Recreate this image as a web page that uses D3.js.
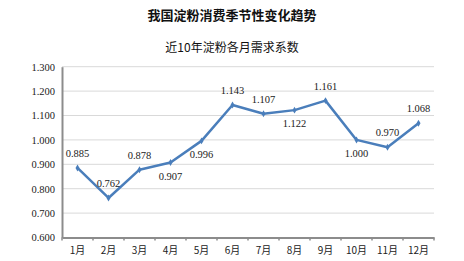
<!DOCTYPE html>
<html><head><meta charset="utf-8">
<script src="https://cdn.jsdelivr.net/npm/d3@7"></script>
<style>body{margin:0;background:#fff;}</style>
</head><body>
<svg id="c" width="464" height="261"></svg>
<script>
const months = ["1月","2月","3月","4月","5月","6月","7月","8月","9月","10月","11月","12月"];
const values = [0.885,0.762,0.878,0.907,0.996,1.143,1.107,1.122,1.161,1.000,0.970,1.068];
const labelBelow = [false,false,false,true,true,false,false,true,false,true,false,false];
const yTicks = [0.6,0.7,0.8,0.9,1.0,1.1,1.2,1.3];
const title = "我国淀粉消费季节性变化趋势";
const subtitle = "近10年淀粉各月需求系数";

const svg = d3.select("#c");
const L=62,R=434,T=66.7,B=237.5;
const x = d3.scaleBand().domain(months).range([L,R]);
const y = d3.scaleLinear().domain([0.6,1.3]).range([B,T]);
const serif = "'Liberation Serif','Times New Roman',serif";
const sans = "'Noto Sans CJK SC','Noto Sans',sans-serif";

svg.append("text").attr("x",232).attr("y",20).attr("text-anchor","middle")
  .attr("font-family",sans).attr("font-weight","bold").attr("font-size",13).attr("fill","#111").text(title);
svg.append("text").attr("x",232).attr("y",52).attr("text-anchor","middle")
  .attr("font-family",sans).attr("font-size",12).attr("fill","#111").text(subtitle);

// grid
svg.append("g").selectAll("line").data(yTicks.slice(1)).join("line")
  .attr("x1",L).attr("x2",R).attr("y1",d=>y(d)).attr("y2",d=>y(d))
  .attr("stroke","#d9d9d9").attr("stroke-width",1);

// y axis
const ya = svg.append("g").attr("transform",`translate(${L},0)`)
  .call(d3.axisLeft(y).tickValues(yTicks).tickFormat(d3.format(".3f")).tickSize(0).tickPadding(7));
ya.select(".domain").attr("stroke","#8c8c8c").attr("stroke-width",2);
ya.selectAll("text").attr("font-family",serif).attr("font-size",10.5).attr("fill","#222");

// x axis
const xa = svg.append("g").attr("transform",`translate(0,${B})`)
  .call(d3.axisBottom(x).tickSize(0).tickPadding(9));
xa.select(".domain").attr("stroke","#8c8c8c").attr("stroke-width",2);
xa.selectAll("text").attr("font-family",sans).attr("font-size",10).attr("fill","#222");
xa.append("g").selectAll("line").data(d3.range(months.length+1)).join("line")
  .attr("x1",i=>L+i*x.step()).attr("x2",i=>L+i*x.step()).attr("y1",0).attr("y2",3)
  .attr("stroke","#8c8c8c").attr("stroke-width",1.5);

// line
const cx = (d,i)=>x(months[i])+x.bandwidth()/2;
svg.append("path").datum(values)
  .attr("d",d3.line().x(cx).y(d=>y(d)))
  .attr("fill","none").attr("stroke","#4a7ebb").attr("stroke-width",2.5).attr("stroke-linejoin","round");
svg.append("g").selectAll("path").data(values).join("path")
  .attr("d",d3.symbol(d3.symbolDiamond,14)())
  .attr("transform",(d,i)=>`translate(${cx(d,i)},${y(d)})`).attr("fill","#4a7ebb");

svg.append("g").selectAll("text").data(values).join("text")
  .attr("x",cx).attr("y",(d,i)=>y(d)+(labelBelow[i]?17:-11))
  .attr("text-anchor","middle").attr("font-family",serif).attr("font-size",10.5).attr("fill","#222")
  .text(d=>d3.format(".3f")(d));
</script>
</body></html>
